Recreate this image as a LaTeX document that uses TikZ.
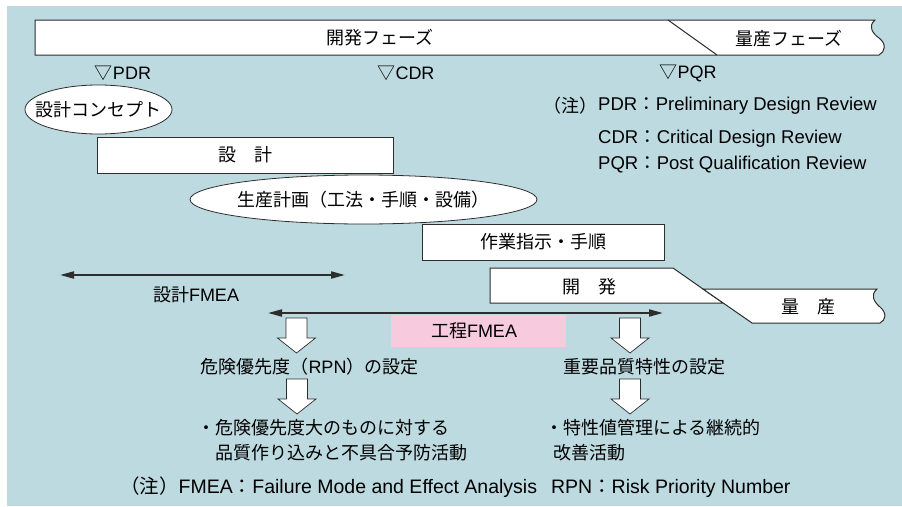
\documentclass[tikz,border=0pt]{standalone}
\usepackage{fontspec}
\setmainfont{Liberation Sans}
\newfontfamily\jp{Noto Sans CJK JP}
\usetikzlibrary{arrows.meta,shapes.geometric}
\definecolor{bg}{RGB}{189,218,224}
\definecolor{pinkbg}{RGB}{248,202,222}
\definecolor{ln}{RGB}{45,45,45}
\newcommand\blockarrow[3]{%
  \draw[barrow] (#1-10.5,#2) -- (#1+10.5,#2) -- (#1+10.5,#3-15) -- (#1+19,#3-15)
    -- (#1,#3) -- (#1-19,#3-15) -- (#1-10.5,#3-15) -- cycle;}
\begin{document}
\begin{tikzpicture}[x=1pt,y=-1pt,
  every node/.style={font=\fontsize{18}{21}\selectfont, inner sep=0pt, text=black},
  box/.style={draw=ln, fill=white, line width=1pt},
  shapeline/.style={draw=ln, fill=white, line width=1pt, line join=miter},
  oval/.style={ellipse, draw=ln, fill=white, line width=0.8pt},
  fmea/.style={{Triangle[length=14pt,width=7pt]}-{Triangle[length=14pt,width=7pt]}, draw=ln, line width=2pt},
  barrow/.style={draw=ln, fill=white, line width=0.7pt, line join=miter},
  lbl/.style={anchor=center}]
\useasboundingbox (0,0) rectangle (902,506);
\fill[bg] (7,6) rectangle (902,506);

% top phase bar
\draw[shapeline] (35,20) -- (875,20) .. controls (868,26) and (872,33) .. (879,38)
  .. controls (887,44) and (885,52) .. (879,55) -- (35,55) -- cycle;
\draw[ln, line width=1pt] (668,20) -- (717,55);
\node[lbl] (kaihatsuphase) at (380,38) {\jp 開発フェーズ};
\node[lbl] (ryosanphase) at (789,39) {\jp 量産フェーズ};

% review milestones
\node[lbl] (pdr) at (123,73) {{\jp ▽}PDR};
\node[lbl] (cdr) at (406,73) {{\jp ▽}CDR};
\node[lbl] (pqr) at (688,73) {{\jp ▽}PQR};

% notes
\node[anchor=west, font=\fontsize{18.5}{21}\selectfont] (n1) at (598,106) {PDR{\jp ：}Preliminary Design Review};
\node[anchor=east] (n0) at (n1.west) {\jp （注）};
\node[anchor=west, font=\fontsize{18.5}{21}\selectfont] (n2) at (598,139) {CDR{\jp ：}Critical Design Review};
\node[anchor=west, font=\fontsize{18.5}{21}\selectfont] (n3) at (598,165) {PQR{\jp ：}Post Qualification Review};

% activities
\node[oval, minimum width=147pt, minimum height=49pt] (concept) at (98.5,109.5) {};
\node[lbl] (concepttxt) at (concept.center) {\jp 設計コンセプト};
\node[box, minimum width=296pt, minimum height=36pt] (sekkei) at (245,155) {\jp 設\quad 計};
\node[oval, minimum width=347pt, minimum height=49pt] (seisan) at (363.5,199.5) {};
\node[lbl] (seisantxt) at (seisan.center) {\jp 生産計画（工法・手順・設備）};
\node[box, minimum width=242pt, minimum height=36pt] (sagyo) at (543,242) {\jp 作業指示・手順};

% development / mass production
\draw[shapeline] (490,268) -- (673,268) -- (723,303) -- (490,303) -- cycle;
\draw[shapeline] (703,289) -- (877,289) .. controls (870,295) and (874,302) .. (880,307)
  .. controls (887,313) and (886,320) .. (880,323) -- (752,323) -- cycle;
\node[lbl] (kaihatsu) at (589,287) {\jp 開\quad 発};
\node[lbl] (ryosan) at (808,307) {\jp 量\quad 産};

% FMEA spans
\coordinate (d1) at (60,275);
\coordinate (d2) at (345,275);
\draw[fmea] (d1) -- (d2);
\node[lbl] (dfmea) at (196,295) {{\jp 設計}FMEA};
\fill[pinkbg] (391,315) rectangle (566,347);
\coordinate (p1) at (268,313);
\coordinate (p2) at (663,313);
\draw[fmea] (p1) -- (p2);
\node[lbl] (pfmea) at (474,331) {{\jp 工程}FMEA};

% results
\blockarrow{296.5}{318}{353}
\blockarrow{630}{318}{353}
\node[lbl] (rpn) at (309.5,367) {{\jp 危険優先度（}RPN{\jp ）の設定}};
\node[lbl] (juyo) at (644,367) {\jp 重要品質特性の設定};
\blockarrow{297}{379}{414}
\blockarrow{630}{379}{414}
\node[anchor=west] (r1) at (197,428) {\jp ・危険優先度大のものに対する};
\node[anchor=west] (r2) at (215,453) {\jp 品質作り込みと不具合予防活動};
\node[anchor=west] (r3) at (545,428) {\jp ・特性値管理による継続的};
\node[anchor=west] (r4) at (553,453) {\jp 改善活動};

% footnote
\node[anchor=west, font=\fontsize{19.5}{22}\selectfont] (foot) at (120,487) {{\jp （注）}FMEA{\jp ：}Failure Mode and Effect Analysis\hspace{14pt}RPN{\jp ：}Risk Priority Number};
\end{tikzpicture}
\end{document}
